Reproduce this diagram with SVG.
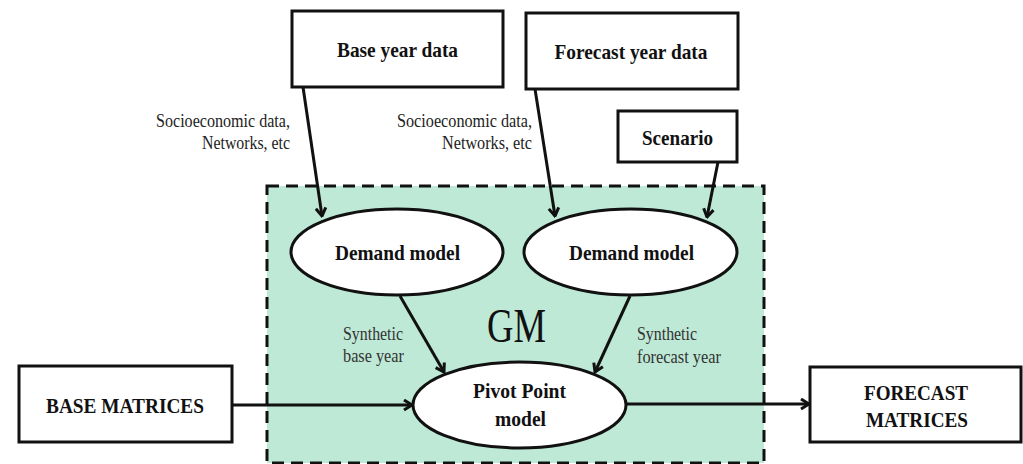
<svg xmlns="http://www.w3.org/2000/svg" width="1023" height="464" viewBox="0 0 1023 464">
  <style>
    .box { fill: #ffffff; stroke: #111111; stroke-width: 3; }
    .oval { fill: #ffffff; stroke: #111111; stroke-width: 3; }
    .edge { fill: none; stroke: #111111; stroke-width: 3; }
    .title { font-family: "Liberation Serif", "Times New Roman", serif; font-weight: bold; font-size: 21.5px; fill: #111111; text-anchor: middle; }
    .note { font-family: "Liberation Serif", "Times New Roman", serif; font-size: 19px; fill: #222222; }
    .soft { fill: #333333; }
    .gm { font-family: "Liberation Serif", "Times New Roman", serif; font-size: 48px; fill: #111111; }
  </style>
  <defs>
    <marker id="chev" viewBox="0 0 11 13" refX="9.5" refY="6.5" markerWidth="11" markerHeight="13" markerUnits="userSpaceOnUse" orient="auto">
      <path d="M1.5,1.5 L9.5,6.5 L1.5,11.5" fill="none" stroke="#111111" stroke-width="3" stroke-linejoin="miter"/>
    </marker>
  </defs>

  <rect width="1023" height="464" fill="#ffffff"/>

  <!-- GM region -->
  <g id="gm-region">
    <rect x="267" y="186" width="497" height="277" fill="#bee9d6" stroke="#111111" stroke-width="3" stroke-dasharray="12 7"/>
    <text class="gm" x="487" y="342" textLength="59" lengthAdjust="spacingAndGlyphs">GM</text>
  </g>

  <!-- connectors -->
  <g id="connectors">
    <line class="edge" x1="303" y1="87" x2="322" y2="216" marker-end="url(#chev)"/>
    <line class="edge" x1="535" y1="89" x2="555" y2="216" marker-end="url(#chev)"/>
    <line class="edge" x1="718" y1="162" x2="707" y2="217" marker-end="url(#chev)"/>
    <line class="edge" x1="400" y1="296" x2="444" y2="372" marker-end="url(#chev)"/>
    <line class="edge" x1="630" y1="296" x2="595" y2="372" marker-end="url(#chev)"/>
    <line class="edge" x1="232" y1="405" x2="412" y2="405" marker-end="url(#chev)"/>
    <line class="edge" x1="626" y1="404" x2="809" y2="404" marker-end="url(#chev)"/>
    <text class="note" x="156" y="127" textLength="134" lengthAdjust="spacingAndGlyphs">Socioeconomic data,</text>
    <text class="note" x="202" y="149" textLength="88" lengthAdjust="spacingAndGlyphs">Networks, etc</text>
    <text class="note" x="397" y="127" textLength="135" lengthAdjust="spacingAndGlyphs">Socioeconomic data,</text>
    <text class="note" x="442" y="149" textLength="90" lengthAdjust="spacingAndGlyphs">Networks, etc</text>
    <text class="note soft" x="343" y="340" textLength="60" lengthAdjust="spacingAndGlyphs">Synthetic</text>
    <text class="note soft" x="343" y="362" textLength="61" lengthAdjust="spacingAndGlyphs">base year</text>
    <text class="note soft" x="637" y="340" textLength="60" lengthAdjust="spacingAndGlyphs">Synthetic</text>
    <text class="note soft" x="637" y="363" textLength="84" lengthAdjust="spacingAndGlyphs">forecast year</text>
  </g>

  <g id="base-year-data">
    <rect class="box" x="292" y="11" width="211" height="76"/>
    <text class="title" x="397.5" y="57" textLength="121" lengthAdjust="spacingAndGlyphs">Base year data</text>
  </g>

  <g id="forecast-year-data">
    <rect class="box" x="526" y="13" width="212" height="76"/>
    <text class="title" x="631" y="59" textLength="153" lengthAdjust="spacingAndGlyphs">Forecast year data</text>
  </g>

  <g id="scenario">
    <rect class="box" x="618" y="111" width="119" height="51"/>
    <text class="title" x="677.5" y="145" textLength="71" lengthAdjust="spacingAndGlyphs">Scenario</text>
  </g>

  <g id="demand-model-base">
    <ellipse class="oval" cx="397" cy="252" rx="106" ry="43"/>
    <text class="title" x="397.5" y="260" textLength="125" lengthAdjust="spacingAndGlyphs">Demand model</text>
  </g>

  <g id="demand-model-forecast">
    <ellipse class="oval" cx="630.5" cy="252" rx="106.5" ry="43"/>
    <text class="title" x="631.5" y="260" textLength="125" lengthAdjust="spacingAndGlyphs">Demand model</text>
  </g>

  <g id="pivot-point-model">
    <ellipse class="oval" cx="519.5" cy="405" rx="106.5" ry="43"/>
    <text class="title" x="519.5" y="398" textLength="93" lengthAdjust="spacingAndGlyphs">Pivot Point</text>
    <text class="title" x="520.5" y="426" textLength="51" lengthAdjust="spacingAndGlyphs">model</text>
  </g>

  <g id="base-matrices">
    <rect class="box" x="19" y="366" width="213" height="76"/>
    <text class="title" x="125" y="413" textLength="158" lengthAdjust="spacingAndGlyphs">BASE MATRICES</text>
  </g>

  <g id="forecast-matrices">
    <rect class="box" x="810" y="367" width="211" height="75"/>
    <text class="title" x="916" y="400" textLength="104" lengthAdjust="spacingAndGlyphs">FORECAST</text>
    <text class="title" x="917" y="427" textLength="102" lengthAdjust="spacingAndGlyphs">MATRICES</text>
  </g>
</svg>
